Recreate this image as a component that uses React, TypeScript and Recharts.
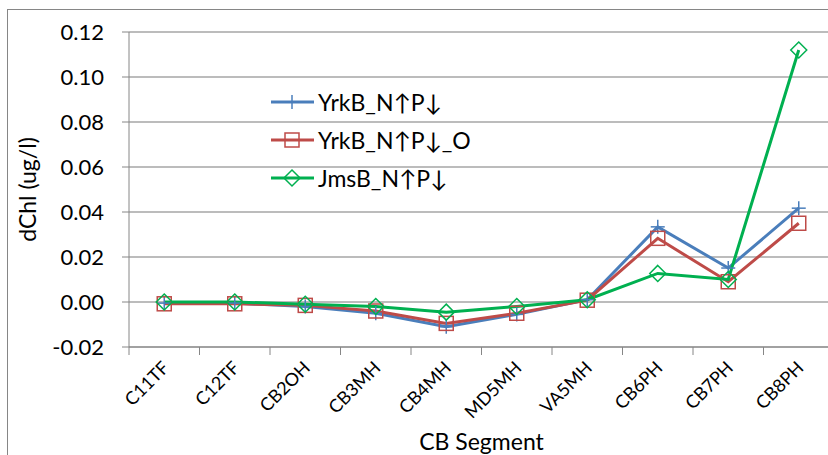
import React from 'react';
import { LineChart, Line, XAxis, YAxis, CartesianGrid } from 'recharts';

const categories = ['C11TF', 'C12TF', 'CB2OH', 'CB3MH', 'CB4MH', 'MD5MH', 'VA5MH', 'CB6PH', 'CB7PH', 'CB8PH'];
const yrkB = [-0.0005, -0.0005, -0.002, -0.005, -0.011, -0.0055, 0.001, 0.0334, 0.0151, 0.0417];
const yrkBO = [-0.0008, -0.0008, -0.0015, -0.004, -0.0095, -0.005, 0.0008, 0.0283, 0.009, 0.035];
const jmsB = [0.0, 0.0, -0.001, -0.002, -0.0045, -0.002, 0.001, 0.0127, 0.010, 0.112];
const yTicks = [-0.02, 0, 0.02, 0.04, 0.06, 0.08, 0.1, 0.12];
const seriesNames = ['YrkB_N↑P↓', 'YrkB_N↑P↓_O', 'JmsB_N↑P↓'];

const data = categories.map((c, i) => ({ x: i + 0.5, name: c, a: yrkB[i], b: yrkBO[i], c: jmsB[i] }));
const xTicks: number[] = [];
for (let i = 0; i <= categories.length * 2; i++) xTicks.push(i / 2);

const FONT = 'Lato, "Open Sans", sans-serif';
const BLUE = '#4A7EBB';
const RED = '#BE4B48';
const GREEN = '#00B050';
const AXIS = '#868686';

const PlusMark = (cx: number, cy: number, color: string, k?: any) => (
  <g key={k}>
    <line x1={cx - 7} y1={cy} x2={cx + 7} y2={cy} stroke={color} strokeWidth={1.5} />
    <line x1={cx} y1={cy - 7} x2={cx} y2={cy + 7} stroke={color} strokeWidth={1.5} />
  </g>
);
const SquareMark = (cx: number, cy: number, color: string, k?: any) => (
  <rect key={k} x={cx - 7} y={cy - 7} width={14} height={14} fill="none" stroke={color} strokeWidth={1.5} />
);
const DiamondMark = (cx: number, cy: number, color: string, k?: any) => (
  <path key={k} d={`M${cx},${cy - 8} L${cx + 8},${cy} L${cx},${cy + 8} L${cx - 8},${cy} Z`} fill="none" stroke={color} strokeWidth={1.5} />
);

const marks = [PlusMark, SquareMark, DiamondMark];
const colors = [BLUE, RED, GREEN];

const XTick = (props: any) => {
  const { x, y, payload } = props;
  const v = payload.value;
  if (Number.isInteger(v)) {
    return <line x1={x} y1={y - 8} x2={x} y2={y} stroke={AXIS} strokeWidth={1} />;
  }
  const label = categories[Math.floor(v)];
  const ax = x + 6;
  const ay = y + 14;
  return (
    <text x={ax} y={ay} transform={`rotate(-45, ${ax}, ${ay})`} textAnchor="end" fontSize={18} fontFamily={FONT} fill="#000">
      {label}
    </text>
  );
};

const LegendBox = () => (
  <div style={{ position: 'absolute', left: 271, top: 83, fontFamily: FONT, fontSize: 23, color: '#000' }}>
    {seriesNames.map((n, i) => (
      <div key={n} style={{ display: 'flex', alignItems: 'center', height: 38 }}>
        <svg width={44} height={20} style={{ marginRight: 3 }}>
          <line x1={0} y1={10} x2={43} y2={10} stroke={colors[i]} strokeWidth={3} />
          {marks[i](21, 10, colors[i])}
        </svg>
        <span>{n}</span>
      </div>
    ))}
  </div>
);

export default function App() {
  return (
    <div style={{ position: 'absolute', left: 0, top: 0, width: 828, height: 455, overflow: 'hidden', background: '#fff' }}>
      <div style={{ position: 'absolute', left: 7, top: 9, width: 900, height: 600, border: `1px solid ${AXIS}` }} />
      <div style={{ position: 'absolute', left: 0, top: 0 }}>
        <LineChart width={850} height={455} data={data} margin={{ top: 32, right: 16, bottom: 0, left: 0 }}>
          <CartesianGrid horizontal vertical={false} stroke="#A6A6A6" strokeWidth={1.5} />
          <XAxis
            dataKey="x"
            type="number"
            domain={[0, categories.length]}
            ticks={xTicks}
            interval={0}
            tickLine={false}
            tick={<XTick />}
            stroke={AXIS}
            height={108}
            label={{ value: 'CB Segment', position: 'insideBottom', offset: 5, fontSize: 23, fontFamily: FONT, fill: '#000' }}
          />
          <YAxis
            domain={[-0.02, 0.12]}
            ticks={yTicks}
            interval={0}
            width={129}
            tickSize={7}
            tickMargin={18}
            stroke={AXIS}
            tick={{ fontSize: 22, fontFamily: FONT, fill: '#000' }}
            tickFormatter={(v: number) => v.toFixed(2)}
            label={{ value: 'dChl (ug/l)', angle: -90, position: 'insideLeft', offset: 28, fontSize: 23, fontFamily: FONT, fill: '#000', style: { textAnchor: 'middle' } }}
          />
          {(['a', 'b', 'c'] as const).map((k, i) => (
            <Line
              key={k}
              dataKey={k}
              name={seriesNames[i]}
              stroke={colors[i]}
              strokeWidth={3}
              isAnimationActive={false}
              dot={(p: any) => marks[i](p.cx, p.cy, colors[i], p.index)}
              activeDot={false}
            />
          ))}
        </LineChart>
      </div>
      <LegendBox />
    </div>
  );
}
